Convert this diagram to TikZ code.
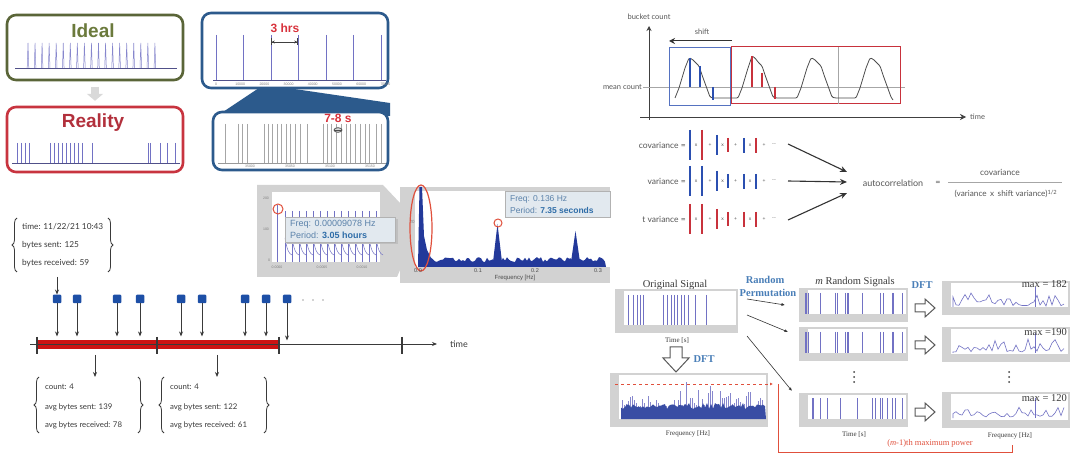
\documentclass[tikz,border=0pt]{standalone}
\usepackage{fontspec}
\setmainfont{Liberation Sans}
\newfontfamily\serf{Liberation Serif}
\newfontfamily\hand{Lato}
\usetikzlibrary{arrows.meta,shapes.geometric,decorations.pathreplacing,calc}
\definecolor{idealfr}{HTML}{5A6538}
\definecolor{idealtx}{HTML}{6B7A3C}
\definecolor{realfr}{HTML}{C8343F}
\definecolor{realtx}{HTML}{B2303C}
\definecolor{navy}{HTML}{2C5A8C}
\definecolor{spk}{HTML}{7272C4}
\definecolor{hotred}{HTML}{D8323C}
\definecolor{barred}{HTML}{CC1414}
\definecolor{sqblue}{HTML}{1D4FA6}
\definecolor{dftblue}{HTML}{4A7FB8}
\definecolor{pgray}{HTML}{D2D2D2}
\definecolor{txgray}{HTML}{3A3A3A}
\definecolor{calloutfill}{HTML}{E2E9EF}
\definecolor{calltx}{HTML}{5B82AA}
\definecolor{callbold}{HTML}{2F6DA8}
\definecolor{specblue}{HTML}{23399A}
\definecolor{autoblue}{HTML}{2B4FB0}
\definecolor{autored}{HTML}{C8323C}
\definecolor{ovred}{HTML}{E0503C}
\tikzset{
  rframe/.style={rounded corners=9pt, line width=2.6pt, fill=white, inner sep=0pt},
  spikeline/.style={spk, line width=0.7pt},
  baseln/.style={draw=spk!70!black, line width=0.8pt},
  rec/.style={font=\hand\fontsize{8.3}{9}\selectfont, text=txgray, anchor=west, inner sep=0pt},
  brc/.style={decorate, decoration={brace, amplitude=5pt}, txgray, line width=0.8pt},
  tarrow/.style={-{Stealth[length=5pt,width=4pt]}, txgray, line width=0.8pt},
  sq/.style={fill=sqblue, minimum size=8.5pt, inner sep=0pt, rounded corners=1pt},
  tickmk/.style={line width=2pt, txgray},
  tinylbl/.style={font=\fontsize{3.5}{4}\selectfont, text=gray, inner sep=0pt},
  lite/.style={font=\hand\fontsize{8.5}{10}\selectfont, text=txgray!85, inner sep=0pt},
  ser/.style={font=\serf\fontsize{10.5}{12}\selectfont, text=txgray, inner sep=0pt},
  sersmall/.style={font=\serf\fontsize{7}{8}\selectfont, text=txgray, inner sep=0pt},
  serblue/.style={font=\serf\bfseries\fontsize{10.5}{12}\selectfont, text=dftblue, inner sep=0pt},
  hollow/.style={draw=gray!70!black, fill=white, line width=1pt},
  thinarr/.style={-{Latex[length=3.5pt,width=3pt]}, black!80, line width=0.6pt},
  bararrow/.style={-{Stealth[length=7pt,width=6pt]}, black!80, line width=1.1pt},
}
\newcommand\PFrame[4]{\fill[pgray] (#1,#2) rectangle (#3,#4); \fill[white] ({#1+9},{#2+2}) rectangle ({#3-2},{#4-8});}
\newcommand\PSpikes[4]{\foreach \sx in {#4} \draw[spikeline] ({#1+\sx},#2) -- ({#1+\sx},#3);}
\newcommand\PSpec[3]{%
  \pgfmathsetseed{#3}%
  \draw[spk, line width=0.6pt] ({#1+11},{#2+26}) \foreach \k in {0,...,37}{ -- ({#1+11+\k*3},{#2+25-rnd*rnd*15}) };
  \draw[spk, line width=0.7pt] (1035,{#2+26}) -- (1035,{#2+6});
}
\newcommand\BarRow[7]{% y, colours of six bars
  \draw[#2, line width=1.8pt] (690,{#1-15}) -- (690,{#1+15});
  \node[lite, font=\hand\fontsize{5}{6}\selectfont] at (696,#1) {x};
  \draw[#3, line width=1.8pt] (702,{#1-15}) -- (702,{#1+15});
  \node[lite, font=\hand\fontsize{5}{6}\selectfont] at (710,#1) {+};
  \draw[#4, line width=1.5pt] (717,{#1-10}) -- (717,{#1+10});
  \node[lite, font=\hand\fontsize{5}{6}\selectfont] at (722.5,#1) {x};
  \draw[#5, line width=1.5pt] (728,{#1-7}) -- (728,{#1+7});
  \node[lite, font=\hand\fontsize{5}{6}\selectfont] at (735.5,#1) {+};
  \draw[#6, line width=1.5pt] (744,{#1-7}) -- (744,{#1+8});
  \node[lite, font=\hand\fontsize{5}{6}\selectfont] at (750,#1) {x};
  \draw[#7, line width=1.5pt] (756,{#1-7}) -- (756,{#1+8});
  \node[lite, font=\hand\fontsize{5}{6}\selectfont] at (764,#1) {+};
  \node[lite, font=\hand\fontsize{5}{6}\selectfont] at (774,#1) {--};
}
\begin{document}
\begin{tikzpicture}[x=1pt,y=-1pt]
\useasboundingbox (0,0) rectangle (1080,465);
\fill[white] (0,0) rectangle (1080,465);

% ================= Ideal / Reality =================
\node[rframe, draw=idealfr, minimum width=176pt, minimum height=65pt] (idealbox) at (95,47.5) {};
\node[font=\bfseries\fontsize{19}{20}\selectfont, text=idealtx, inner sep=0pt] (ideal) at (93,31) {Ideal};
\foreach \i in {0,...,18} \draw[spk!85, line width=0.5pt] ({27.2+\i*7.05},68) -- ({28+\i*7.05},43) -- ({28.8+\i*7.05},68);
\draw[baseln] (15,68) -- (177,68);

\node[rframe, draw=realfr, minimum width=176pt, minimum height=65pt] (realbox) at (95,139.5) {};
\node[font=\bfseries\fontsize{19}{20}\selectfont, text=realtx, inner sep=0pt] (reality) at (93,123) {Reality};
\foreach \sx in {17,21,25,29,50,54,58,62,66,70,74,78,82,92,148,150,160,167,175}
  \draw[spk, line width=0.7pt] (\sx,143) -- (\sx,163);
\draw[baseln] (12,163) -- (180,163);
\draw[line width=8pt, gray!30, -{Triangle[length=7pt,width=16pt]}]
  ($(idealbox.south)!0.22!(realbox.north)$) -- ($(idealbox.south)!0.8!(realbox.north)$);

% ================= 3 hrs / 7-8 s =================
\fill[navy] (262,86) -- (274,86) -- (390,103) -- (390,116) -- (217,116) -- cycle;
\node[rframe, draw=navy, minimum width=186pt, minimum height=75pt] (hrsbox) at (295,50.5) {};
\foreach \sx in {216,243,271,298,326,353,381} \draw[spk, line width=0.8pt] (\sx,35) -- (\sx,80);
\draw[baseln] (213,80) -- (386,80);
\foreach \lbl [count=\i from 0] in {0,10000,20000,30000,40000,50000,60000,70000}
  \node[tinylbl] at ({216+24.2*\i},84) {\lbl};
\node[font=\bfseries\fontsize{12}{13}\selectfont, text=hotred, inner sep=0pt] (hrs) at (285,28) {3 hrs};
\draw[{Bar[width=7pt]Stealth[length=3pt,width=3pt]}-{Stealth[length=3pt,width=3pt]Bar[width=7pt]}, black!75, line width=0.7pt] (271,42) -- (298,42);

\node[rframe, draw=navy, minimum width=175pt, minimum height=58pt] (secbox) at (300.5,141) {};
\foreach \sx in {225,238,242,247,264,268,272,277,281,286,290,295,300,307,323,327,331,336,341,346,350,355,360,365,369,376,381}
  \draw[gray!70, line width=0.7pt] (\sx,124) -- (\sx,163);
\draw[gray!80, line width=0.7pt] (218,163) -- (386,163);
\foreach \lbl [count=\i from 0] in {35000,35050,35100,35150}
  \node[tinylbl] at ({250+40*\i},166) {\lbl};
\node[font=\bfseries\fontsize{12}{13}\selectfont, text=hotred, inner sep=0pt] (secs) at (338,118) {7-8 s};
\draw[black!70, line width=0.8pt, fill=gray!30] (338,130) ellipse (4 and 2.3);
\draw[black!70, line width=0.6pt] (334,130) -- (342,130);

% ================= FFT screenshots =================
\fill[pgray] (257,185) -- (383,185) -- (400,203) -- (400,270) -- (397,277) -- (257,277) -- cycle;
\fill[white] (272,192) rectangle (380,262);
\node[tinylbl] at (266,198) {200};
\node[tinylbl] at (266,229) {100};
\node[tinylbl] at (269,260) {0};
\node[tinylbl] at (277,267) {0.0000};
\node[tinylbl] at (322,267) {0.0005};
\node[tinylbl] at (362,267) {0.0010};
\draw[spk, line width=0.8pt] (277,262) -- (277,205);
\foreach \i in {0,...,13} {
  \draw[spk, line width=0.6pt] ({285+7*\i},211) -- ({285+7*\i},262);
  \draw[spk, line width=0.5pt] ({285+7*\i},238) .. controls ({287+7*\i},250) and ({289+7*\i},254) .. ({292+7*\i},255);
}
\draw[ovred, line width=1pt] (278,209) circle (5);
\fill[black!25] (287,219) rectangle (398,244);
\node[draw=gray!60, fill=calloutfill, minimum width=110pt, minimum height=25pt, inner sep=0pt] (call1) at (340.5,229.5) {};
\node[anchor=west, font=\fontsize{9}{10}\selectfont, text=calltx, inner sep=0pt] (fq1) at (290,224) {Freq: 0.00009078 Hz};
\node[anchor=west, font=\fontsize{9}{10}\selectfont, text=calltx, inner sep=0pt] (pd1) at (290,235) {Period: \textcolor{callbold}{\bfseries 3.05 hours}};

\fill[pgray] (400,187) rectangle (610,283);
\fill[white] (415,191) rectangle (610,267);
\pgfmathsetseed{7}
\fill[specblue] (418,267) -- (419.5,187) -- (422,187) -- (424,236) -- (427,250) -- (430,256)
  \foreach \k in {0,...,87}{ -- ({431+\k*2},{257+5*rnd}) } -- (606,267) -- cycle;
\fill[specblue] (493,262) -- (497.5,224) -- (502,262) -- cycle;
\fill[specblue] (571,262) -- (575.5,231) -- (580,262) -- cycle;
\node[tinylbl, font=\fontsize{4.5}{5}\selectfont] at (412,222) {20};
\draw[ovred, line width=1.2pt] (421,228) ellipse (11 and 43);
\draw[ovred, line width=1pt] (498,223) circle (4);
\node[tinylbl, font=\fontsize{5.5}{6}\selectfont, text=black!70] at (418,271) {0.0};
\node[tinylbl, font=\fontsize{5.5}{6}\selectfont, text=black!70] at (478,271) {0.1};
\node[tinylbl, font=\fontsize{5.5}{6}\selectfont, text=black!70] at (535,271) {0.2};
\node[tinylbl, font=\fontsize{5.5}{6}\selectfont, text=black!70] at (598,271) {0.3};
\node[tinylbl, font=\fontsize{6}{7}\selectfont, text=black!70] at (515,278) {Frequency [Hz]};
\node[draw=gray!60, fill=calloutfill, minimum width=105pt, minimum height=26pt, inner sep=0pt] (call2) at (557.5,204) {};
\node[anchor=west, font=\fontsize{8.5}{10}\selectfont, text=calltx, inner sep=0pt] (fq2) at (510,199) {Freq: 0.136 Hz};
\node[anchor=west, font=\fontsize{8.5}{10}\selectfont, text=calltx, inner sep=0pt] (pd2) at (510,210) {Period: \textcolor{callbold}{\bfseries 7.35 seconds}};

% ================= timeline =================
\node[rec] (r1a) at (22,227) {time: 11/22/21 10:43};
\node[rec] (r1b) at (22,245) {bytes sent: 125};
\node[rec] (r1c) at (22,263) {bytes received: 59};
\draw[brc] (17,272) -- (17,218);
\draw[brc] (108,218) -- (108,272);
\coordinate (rec1) at (57,277);
\foreach \sx [count=\i] in {57,77,117,140,181,202,245,266,287} \node[sq] (s\i) at (\sx,299) {};
\foreach \i in {1,...,8} \draw[tarrow] (s\i.south) -- ++(0,33);
\draw[tarrow] (s9.south) -- ++(0,37);
\draw[tarrow] (rec1) -- (s1.north);
\foreach \sx in {303,313,323} \fill[gray!70] (\sx,300) circle (0.8);
\coordinate (tl0) at (30,344);
\coordinate (tl1) at (437,344);
\fill[barred] (37,340) rectangle (279,349);
\draw[tarrow, line width=0.9pt] (tl0) -- (tl1);
\foreach \sx in {37,157,279,402} \draw[tickmk] (\sx,337) -- (\sx,354);
\node[font=\hand\fontsize{9}{10}\selectfont, text=txgray, inner sep=0pt] (timelbl) at (459,344) {time};
\coordinate (b1) at (95,355);
\coordinate (b2) at (217,355);
\draw[tarrow] (b1) -- ++(0,22);
\draw[tarrow] (b2) -- ++(0,22);
\node[rec, font=\hand\fontsize{7.8}{9}\selectfont] (r2a) at (45,387) {count: 4};
\node[rec, font=\hand\fontsize{7.8}{9}\selectfont] (r2b) at (45,407) {avg bytes sent: 139};
\node[rec, font=\hand\fontsize{7.8}{9}\selectfont] (r2c) at (45,425) {avg bytes received: 78};
\draw[brc] (39,433) -- (39,377);
\draw[brc] (138,377) -- (138,433);
\node[rec, font=\hand\fontsize{7.8}{9}\selectfont] (r3a) at (170,387) {count: 4};
\node[rec, font=\hand\fontsize{7.8}{9}\selectfont] (r3b) at (170,407) {avg bytes sent: 122};
\node[rec, font=\hand\fontsize{7.8}{9}\selectfont] (r3c) at (170,425) {avg bytes received: 61};
\draw[brc] (164,433) -- (164,377);
\draw[brc] (264,377) -- (264,433);

% ================= autocorrelation sketch =================
\coordinate (ax0) at (649,120);
\coordinate (ax1) at (649,26);
\coordinate (ay0) at (640,117);
\coordinate (ay1) at (966,117);
\draw[-{Stealth[length=5pt,width=5pt]}, black!75, line width=0.7pt] (ax0) -- (ax1);
\draw[-{Stealth[length=6pt,width=6pt]}, black!75, line width=0.7pt] (ay0) -- (ay1);
\node[lite, font=\hand\fontsize{7.5}{8}\selectfont] (bc) at (649,17) {bucket count};
\node[lite, font=\hand\fontsize{7.5}{8}\selectfont, anchor=west] (tm2) at (970,117) {time};
\node[lite, font=\hand\fontsize{7.5}{8}\selectfont, anchor=east] (mc) at (642,87) {mean count};
\draw[gray!70, line width=0.6pt] (643,87) -- (905,87);
\node[lite, font=\hand\fontsize{7.5}{8}\selectfont] (shiftlbl) at (702,32) {shift};
\coordinate (sh0) at (732,41);
\coordinate (sh1) at (669,41);
\draw[-{Stealth[length=6pt,width=6pt]}, black!80, line width=1pt] (sh0) -- (sh1);
\draw[autoblue!80, line width=0.7pt] (669,47) rectangle (730,105);
\draw[autored, line width=1pt] (731,47) rectangle (900,104);
\draw[gray!70, line width=0.6pt] (838,47) -- (838,104);
\draw[black!70, line width=0.8pt, rounded corners=1.2pt]
  (675,98) -- (679,88) -- (685,68) -- (689,58) -- (692,59) -- (695,62) -- (699,66) -- (702,75) -- (706,86) -- (710,97) -- (713,98)
  -- (738,98) -- (742,88) -- (748,68) -- (752,56) -- (755,58) -- (758,62) -- (762,66) -- (765,75) -- (769,86) -- (773,97) -- (776,98)
  -- (797,98) -- (801,88) -- (807,68) -- (811,58) -- (814,59) -- (817,62) -- (821,66) -- (824,75) -- (828,86) -- (832,97) -- (835,98)
  -- (856,98) -- (860,88) -- (866,68) -- (870,58) -- (873,59) -- (876,62) -- (880,66) -- (883,75) -- (887,86) -- (891,97) -- (893,100);
\draw[autoblue, line width=2pt] (690,58) -- (690,87);
\draw[autoblue, line width=2pt] (700,66) -- (700,87);
\draw[autoblue, line width=2pt] (713,87) -- (713,100);
\draw[autored, line width=2pt] (752,56) -- (752,87);
\draw[autored, line width=2pt] (762,73) -- (762,87);
\draw[autored, line width=2pt] (775,87) -- (775,99);

% ================= covariance formulas =================
\node[lite, anchor=east] (covl) at (686,145) {covariance =};
\node[lite, anchor=east] (varl) at (686,181) {variance =};
\node[lite, anchor=east] (tvarl) at (686,219) {t variance =};
\BarRow{145}{autoblue}{autored}{autoblue}{autored}{autoblue}{autored}
\BarRow{181}{autoblue}{autoblue}{autoblue}{autoblue}{autoblue}{autoblue}
\BarRow{219}{autored}{autored}{autored}{autored}{autored}{autored}
\coordinate (c1) at (788,144);
\coordinate (c2) at (788,181);
\coordinate (c3) at (788,220);
\coordinate (e1) at (847,172);
\coordinate (e2) at (847,182);
\coordinate (e3) at (847,193);
\node[lite, font=\hand\fontsize{9}{10}\selectfont] (autoc) at (893,183) {autocorrelation};
\draw[bararrow] (c1) -- (e1);
\draw[bararrow] (c2) -- (e2);
\draw[bararrow] (c3) -- (e3);
\node[lite, font=\hand\fontsize{9}{10}\selectfont] (eqs) at (938,183) {=};
\node[lite, font=\hand\fontsize{8.5}{10}\selectfont] (num) at (1000,172) {covariance};
\draw[gray!70, line width=0.5pt] (948,182) -- (1062,182);
\node[lite, font=\hand\fontsize{8.2}{10}\selectfont] (den) at (1006,194) {(variance\, x\, shift variance)\textsuperscript{1/2}};

% ================= permutation test =================
\node[ser] (orig) at (675,285) {Original Signal};
\PFrame{615}{289}{738}{333}
\PSpikes{0}{295}{325}{628,633,637,640,643,663,667,671,674,677,681,684,688,695,706}
\node[sersmall] (ot) at (677,341) {Time [s]};
\coordinate (o1) at (747,299);
\coordinate (o2) at (747,315);
\coordinate (o3) at (747,336);
\node[serblue] (rp1) at (765,280) {Random};
\node[serblue] (rp2) at (768,293) {Permutation};

\draw[hollow] (670,347) -- (682,347) -- (682,358) -- (689,358) -- (676,372) -- (663,358) -- (670,358) -- cycle;
\node[serblue] (dft1) at (704,359) {DFT};
\PFrame{610}{373}{768}{427}
\pgfmathsetseed{11}
\foreach \k in {0,...,70} \draw[spk!85, line width=0.5pt] ({622+\k*2},419) -- ({622+\k*2},{407-rnd*rnd*27});
\fill[specblue!90] (621,419) \foreach \k in {0,...,72}{ -- ({621+\k*2},{409-rnd*6}) } -- (766,419) -- cycle;
\node[sersmall] (ofreq) at (688,434) {Frequency [Hz]};
\coordinate (rd0) at (615,384);
\coordinate (rd1) at (773,384);
\draw[ovred, dashed, line width=0.9pt, -{Latex[length=3pt,width=3pt]}] (rd0) -- (rd1);
\draw[ovred, line width=0.8pt] (778,384) -- (778,452) -- (1012,452) -- (1012,445);
\node[font=\serf\fontsize{8.5}{10}\selectfont, text=ovred, inner sep=0pt] (mpow) at (930,443) {(\textit{m}-1)th maximum power};

\node[ser] (mrs) at (855,282) {\textit{m} Random Signals};
\PFrame{799}{288}{908}{322}
\PSpikes{799}{293}{314}{6,7,9,21,36,38,46,48,49,63,81,84,93,94,103}
\PFrame{799}{327}{908}{361}
\PSpikes{799}{332}{353}{6,7,9,21,36,38,46,48,49,63,81,84,93,94,103}
\PFrame{799}{393}{908}{427}
\PSpikes{799}{398}{419}{13,14,21,28,41,58,73,76,81,83,88,93,96,103}
\coordinate (p1) at (785,305);
\coordinate (p2) at (788,332);
\coordinate (p3) at (792,391);
\draw[thinarr] (o1) -- (p1);
\draw[thinarr] (o2) -- (p2);
\draw[thinarr] (o3) -- (p3);
\foreach \yy in {372,377,382} \fill[black!75] (854,\yy) circle (1);
\node[sersmall] (rt) at (854,435) {Time [s]};

\node[serblue] (dft2) at (922,285) {DFT};
\foreach \yy in {308,345,412}
  \draw[hollow] (915,{\yy-4}) -- (925,{\yy-4}) -- (925,{\yy-9}) -- (935,\yy) -- (925,{\yy+9}) -- (925,{\yy+4}) -- (915,{\yy+4}) -- cycle;
\PFrame{942}{281}{1070}{315}
\PSpec{942}{281}{3}
\PFrame{942}{327}{1070}{362}
\PSpec{942}{327}{5}
\PFrame{942}{392}{1070}{428}
\PSpec{942}{392}{9}
\node[ser, anchor=east] (mx1) at (1067,284) {max = 182};
\node[ser, anchor=east] (mx2) at (1067,332) {max =190};
\node[ser, anchor=east] (mx3) at (1067,398) {max = 120};
\foreach \yy in {372,377,382} \fill[black!75] (1009,\yy) circle (1);
\node[sersmall] (sf) at (1010,436) {Frequency [Hz]};
\end{tikzpicture}
\end{document}
